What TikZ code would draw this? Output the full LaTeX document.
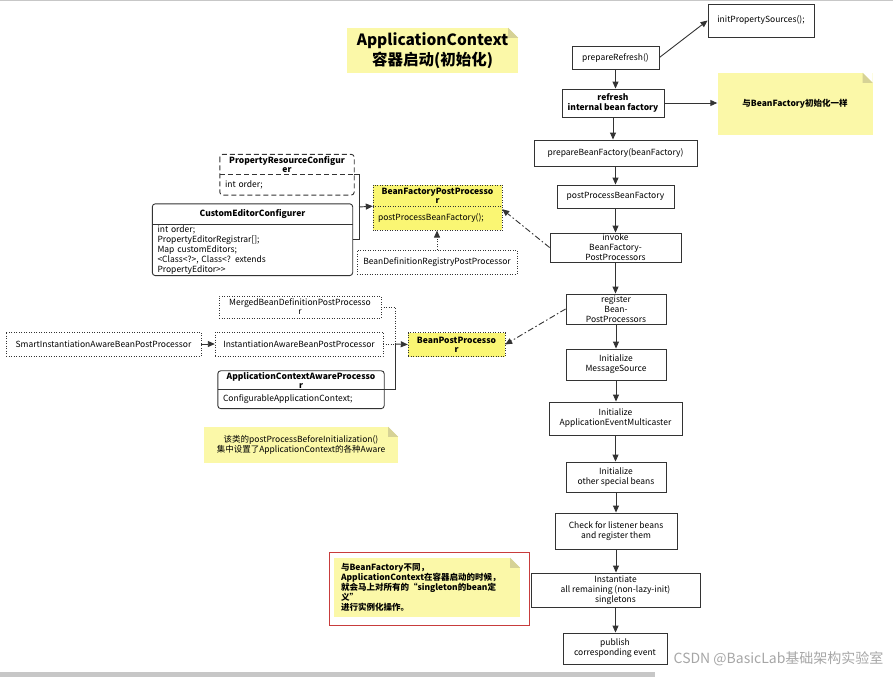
\documentclass[tikz,border=0pt]{standalone}
\usepackage{fontspec}
\setmainfont{Noto Sans CJK SC}
\usetikzlibrary{arrows.meta,calc}

\definecolor{notefill}{RGB}{251,248,168}
\definecolor{foldcol}{RGB}{214,210,150}
\definecolor{ifacefill}{RGB}{250,246,115}
\definecolor{linecol}{RGB}{51,51,51}
\definecolor{framered}{RGB}{200,60,60}

% folded corner of a note
\newcommand\foldcorner[1]{%
    \fill[white] ([xshift=-10pt]#1.north east) -- (#1.north east) -- ([yshift=-10pt]#1.north east) -- cycle;
    \fill[foldcol] ([xshift=-10pt]#1.north east) -- ([xshift=-10pt,yshift=-10pt]#1.north east) -- ([yshift=-10pt]#1.north east) -- cycle;
}

\begin{document}
\begin{tikzpicture}[
        x = 1pt, y = -1pt,
        font = \fontsize{8.5}{10}\selectfont,
        >= {Triangle[length=7pt,width=6pt]},
        flowbox/.style = {draw = linecol, line width = .9pt, align = center, inner sep = 1pt},
        notebox/.style = {fill = notefill, align = center, inner sep = 1pt},
        classhead/.style = {align = center, inner sep = 1pt, font = \fontsize{8.5}{9}\selectfont\bfseries},
        classbody/.style = {align = left, inner xsep = 5pt, inner ysep = 1pt, anchor = north},
        ifacebox/.style = {draw = linecol, dash pattern = on 1pt off 1.5pt, align = center, inner sep = 1pt},
        dashdot/.style = {dash pattern = on 6pt off 2.5pt on 1.5pt off 2.5pt},
        link/.style = {draw = linecol, line width = .9pt}
    ]
    \useasboundingbox (0,0) rectangle (893,677);
    \fill[black!22] (0,0) rectangle (893,1);
    \fill[black!22] (0,672) rectangle (655,677);

    % title
    \node[notebox, minimum width = 171pt, minimum height = 45pt,
        font = \fontsize{15.5}{20}\selectfont\bfseries] (title) at (432.5,50.5)
        {ApplicationContext\\容器启动(初始化)};
    \foldcorner{title}

    % main flow
    \node[flowbox, minimum width = 106pt, minimum height = 33pt] (initps) at (761,20.5) {initPropertySources();};
    \node[flowbox, minimum width = 87pt, minimum height = 23pt] (prepref) at (615.5,57.5) {prepareRefresh()};
    \node[flowbox, minimum width = 102pt, minimum height = 28pt, font = \fontsize{8.5}{10}\selectfont\bfseries] (refresh) at (613,103) {refresh\\internal bean factory};
    \node[flowbox, minimum width = 163pt, minimum height = 26pt] (prepbf) at (615.5,153) {prepareBeanFactory(beanFactory)};
    \node[flowbox, minimum width = 117pt, minimum height = 23pt] (postbf) at (615.5,196.5) {postProcessBeanFactory};
    \node[flowbox, minimum width = 131pt, minimum height = 29pt] (invoke) at (615.5,247.5) {invoke\\BeanFactory-\\PostProcessors};
    \node[flowbox, minimum width = 100pt, minimum height = 30pt] (register) at (616,309) {register\\Bean-\\PostProcessors};
    \node[flowbox, minimum width = 100pt, minimum height = 31pt] (msgsrc) at (616,364.5) {Initialize\\MessageSource};
    \node[flowbox, minimum width = 133pt, minimum height = 33pt] (multicast) at (615.5,418.5) {Initialize\\ApplicationEventMulticaster};
    \node[flowbox, minimum width = 100pt, minimum height = 30pt] (special) at (616,477) {Initialize\\other special beans};
    \node[flowbox, minimum width = 122pt, minimum height = 36pt] (listener) at (616,531) {Check for listener beans\\and register them};
    \node[flowbox, minimum width = 169pt, minimum height = 34pt] (instant) at (615.5,590) {Instantiate\\all remaining (non-lazy-init)\\singletons};
    \node[flowbox, minimum width = 104pt, minimum height = 31pt] (publish) at (615,648.5) {publish\\corresponding event};

    \foreach \a/\b in {prepref/refresh, refresh/prepbf, prepbf/postbf, postbf/invoke,
        invoke/register, register/msgsrc, msgsrc/multicast, multicast/special,
        special/listener, listener/instant, instant/publish}
        \draw[link, ->] (\a.south) -- (\a.south |- \b.north);
    \draw[link, ->] (prepref.east) -- (initps.west);

    % same as BeanFactory
    \node[notebox, minimum width = 155pt, minimum height = 62pt, font = \fontsize{8.5}{10}\selectfont\bfseries] (samebf) at (795,104) {与BeanFactory初始化一样};
    \foldcorner{samebf}
    \draw[link, ->] (refresh.east) -- (samebf.west |- refresh.east);

    % BeanFactoryPostProcessor group
    \node[classhead, minimum width = 134pt, minimum height = 20pt] (prc) at (287,164.5) {PropertyResourceConfigur\\er};
    \node[classbody, minimum width = 134pt, minimum height = 20pt, text width = 124pt] (prcbody) at (prc.south) {int order;};
    \draw[linecol, line width = .9pt, dash pattern = on 5pt off 3pt, rounded corners = 3pt] (prc.north west) rectangle (prcbody.south east);
    \draw[linecol, line width = .9pt, dash pattern = on 5pt off 3pt] (prc.south west) -- (prc.south east);

    \node[classhead, minimum width = 200pt, minimum height = 20pt] (cec) at (252.5,214) {CustomEditorConfigurer};
    \node[classbody, minimum width = 200pt, minimum height = 51pt, text width = 190pt] (cecbody) at (cec.south) {int order;\\PropertyEditorRegistrar[];\\Map customEditors;\\<Class<?>, Class<? extends\\PropertyEditor>{}>};
    \draw[linecol, line width = .9pt, rounded corners = 3pt] (cec.north west) rectangle (cecbody.south east);
    \draw[linecol, line width = .9pt] (cec.south west) -- (cec.south east);

    \node[classhead, fill = ifacefill, minimum width = 129pt, minimum height = 21pt] (bfpp) at (437.5,195.5) {BeanFactoryPostProcesso\\r};
    \node[classbody, fill = ifacefill, minimum width = 129pt, minimum height = 24pt, text width = 119pt] (bfppbody) at (bfpp.south) {postProcessBeanFactory();};
    \draw[linecol, dash pattern = on 1pt off 1.5pt] (bfpp.north west) rectangle (bfppbody.south east);
    \draw[linecol, dash pattern = on 1pt off 1.5pt] (bfpp.south west) -- (bfpp.south east);

    \node[ifacebox, minimum width = 160pt, minimum height = 24pt] (bdrpp) at (437,262) {BeanDefinitionRegistryPostProcessor};

    \coordinate (bfbus) at (359,207);
    \draw[link] (prc.south east) -| (bfbus);
    \draw[link] ($(cecbody.north east)+(0,15)$) -| (bfbus);
    \draw[link, ->] (bfbus) -- (bfpp.south west);
    \draw[link, ->, dash pattern = on 1pt off 1.5pt] (bdrpp.north) -- (bdrpp.north |- bfppbody.south);
    \draw[link, ->, dashdot] (invoke.west) -- ($(bfppbody.north east)+(0,3)$);

    % BeanPostProcessor group
    \node[ifacebox, minimum width = 162pt, minimum height = 22pt, font = \fontsize{8.5}{9}\selectfont] (merged) at (300,307) {MergedBeanDefinitionPostProcesso\\r};
    \node[ifacebox, minimum width = 168pt, minimum height = 24pt] (instaware) at (299,344) {InstantiationAwareBeanPostProcessor};
    \node[ifacebox, minimum width = 195pt, minimum height = 24pt] (smart) at (103.5,344) {SmartInstantiationAwareBeanPostProcessor};

    \node[classhead, minimum width = 166pt, minimum height = 18pt] (acap) at (301,380) {ApplicationContextAwareProcesso\\r};
    \node[classbody, minimum width = 166pt, minimum height = 19pt, text width = 156pt] (acapbody) at (acap.south) {ConfigurableApplicationContext;};
    \draw[linecol, line width = .9pt, rounded corners = 3pt] (acap.north west) rectangle (acapbody.south east);
    \draw[linecol, line width = .9pt] (acap.south west) -- (acap.south east);

    \node[ifacebox, fill = ifacefill, minimum width = 97pt, minimum height = 24pt, font = \fontsize{8.5}{9}\selectfont\bfseries] (bpp) at (456.5,344.5) {BeanPostProcesso\\r};

    \coordinate (bpbus) at (395,344);
    \draw[linecol, dash pattern = on 1pt off 1.5pt] (merged.east) -| (bpbus);
    \draw[linecol, dash pattern = on 1pt off 1.5pt] (instaware.east) -- (bpbus);
    \draw[link] (acap.south east) -| (bpbus);
    \draw[link, ->] (bpbus) -- (bpp.west);
    \draw[link, ->] (smart) -- (instaware);
    \draw[link, ->, dashdot] (register.west) -- (bpp.east);

    % notes
    \node[notebox, minimum width = 194pt, minimum height = 36pt] (awarenote) at (301,445)
        {该类的postProcessBeforeInitialization()\\集中设置了ApplicationContext的各种Aware};
    \foldcorner{awarenote}

    \node[draw = framered, line width = .8pt, minimum width = 200pt, minimum height = 73pt] (redframe) at (429,588.5) {};
    \node[notebox, minimum width = 186pt, minimum height = 59pt, align = left, text width = 172pt,
        font = \fontsize{8.5}{10}\selectfont\bfseries] (diffnote) at (427,587.5)
        {与BeanFactory不同，\\ApplicationContext在容器启动的时候，\\就会马上对所有的“singleton的bean定\\义”\\进行实例化操作。};
    \foldcorner{diffnote}

    % watermark
    \node[text = black!35, font = \fontsize{14}{16}\selectfont, anchor = east] (mark) at (887,659) {CSDN @BasicLab基础架构实验室};
\end{tikzpicture}
\end{document}
